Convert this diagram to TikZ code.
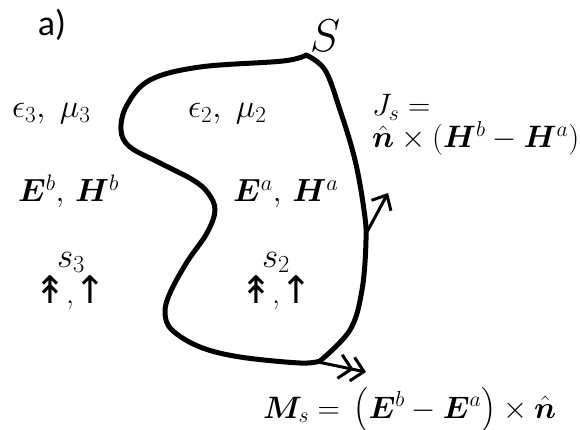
\RequirePackage{fix-cm}
\documentclass[tikz,border=0pt]{standalone}
\usepackage{amsmath,bm}
\usepackage{fontspec}
\newfontfamily\calibri{Carlito}
\newfontfamily\dejavu{DejaVu Sans}
\usetikzlibrary{arrows.meta}
\newcommand{\arrsym}[1]{{\dejavu\fontsize{38}{42}\selectfont #1}}
\begin{document}
\begin{tikzpicture}[x=1pt,y=-1pt,
  lbl/.style={inner sep=0pt,font=\fontsize{32}{36}\selectfont},
  eqn/.style={inner sep=0pt,font=\fontsize{31}{34}\selectfont},
  surf/.style={line width=5pt,line join=round,line cap=round},
  curarrow/.style={line width=3pt,-{Straight Barb[length=12pt,width=22pt,line width=3pt]}},
  magarrow/.style={line width=3pt,-{Straight Barb[length=12pt,width=24pt,line width=3pt,sep=-3pt]Straight Barb[length=12pt,width=24pt,line width=3pt]}}]
\useasboundingbox (0,0) rectangle (580,430);
\draw[surf] plot[smooth,tension=0.6] coordinates {(306,55) (325,70) (340,110) (355,160) (364,210) (366,240) (362,290) (350,330) (320,361)}
  -- plot[smooth,tension=0.6] coordinates {(320,361) (300,363) (240,357) (200,347) (172,330) (165,313) (170,293) (187,262) (207,233) (215,210) (208,193) (193,180) (160,163) (130,147) (121,130) (127,105) (150,80) (200,67) (283,61) (306,55)};
\coordinate (jbase) at (367,232);
\coordinate (jtip) at (388,193);
\coordinate (mbase) at (318,362);
\coordinate (mtip) at (366,372);
\draw[curarrow] (jbase) -- (jtip);
\draw[magarrow] (mbase) -- (mtip);
\node[inner sep=0pt,font=\calibri\fontsize{36}{40}\selectfont] (lab) at (52,25) {a)};
\node[inner sep=0pt,font=\fontsize{46}{52}\selectfont] (S) at (325,36) {$S$};
\node[lbl,font=\fontsize{33}{36}\selectfont,anchor=base west] (eps3) at (12,118) {$\epsilon_3,\;\mu_3$};
\node[lbl,font=\fontsize{33}{36}\selectfont,anchor=base west] (eps2) at (188,118) {$\epsilon_2,\;\mu_2$};
\node[lbl,anchor=base west] (Eb) at (18,202) {$\bm{E}^b,\,\bm{H}^b$};
\node[lbl,anchor=base west] (Ea) at (233,202) {$\bm{E}^a,\,\bm{H}^a$};
\node[lbl,font=\fontsize{35}{38}\selectfont,anchor=base] (s3) at (71,267) {$s_3$};
\node[lbl,font=\fontsize{35}{38}\selectfont,anchor=base] (s2) at (276,267) {$s_2$};
\node[lbl,anchor=base] (src3) at (70,303) {\arrsym{↟},\arrsym{↑}};
\node[lbl,anchor=base] (src2) at (276,303) {\arrsym{↟},\arrsym{↑}};
\node[eqn,align=left,anchor=base west] (js) at (372,148) {$J_s =$\\[-2pt]$\hat{\bm{n}}\times(\bm{H}^b-\bm{H}^a)$};
\node[eqn,anchor=base west] (ms) at (263,418) {$\bm{M}_s=\,\left(\bm{E}^b-\bm{E}^a\right)\times\hat{\bm{n}}$};
\end{tikzpicture}
\end{document}
